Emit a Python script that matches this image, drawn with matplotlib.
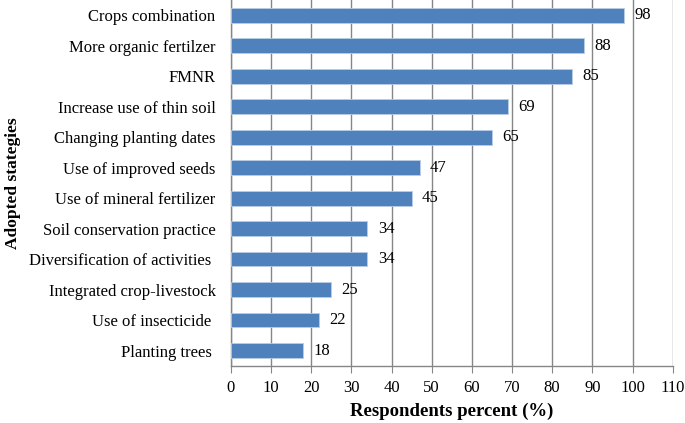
import matplotlib.pyplot as plt

# data (top to bottom as in the figure)
strategies = ['Crops combination', 'More organic fertilzer', 'FMNR',
              'Increase use of thin soil', 'Changing planting dates',
              'Use of improved seeds', 'Use of mineral fertilizer',
              'Soil conservation practice', 'Diversification of activities ',
              'Integrated crop-livestock', 'Use of insecticide ', 'Planting trees ']
percent = [98, 88, 85, 69, 65, 47, 45, 34, 34, 25, 22, 18]
xticks = list(range(0, 111, 10))

plt.rcParams['font.family'] = ['Liberation Serif', 'DejaVu Serif']

fig = plt.figure(figsize=(6.85, 4.23), dpi=100)
ax = fig.add_axes([0.337, 0.135, 0.645, 0.865])

pos = list(range(len(strategies)))[::-1]
ax.barh(pos, percent, height=0.48, color='#4F81BD', edgecolor='#B9CDE5', linewidth=0.6, zorder=3)
for p, v in zip(pos, percent):
    ax.text(v + 2.6, p, str(v), va='center', ha='left', fontsize=12, zorder=4)

ax.set_xlim(0, 110)
ax.set_ylim(-0.5, len(strategies) - 0.5)
ax.set_xticks(xticks)
ax.set_yticks(pos)
ax.set_yticklabels(strategies, fontsize=12)
ax.tick_params(axis='x', labelsize=12, direction='out', length=5, color='#868686', pad=5)
ax.tick_params(axis='y', length=0, pad=11)
ax.xaxis.grid(True, color='#868686', linewidth=1.0, zorder=0)
for s in ['top', 'right']:
    ax.spines[s].set_visible(False)
for s in ['left', 'bottom']:
    ax.spines[s].set_color('#868686')
    ax.spines[s].set_linewidth(1.0)

ax.set_xlabel('Respondents percent (%)', fontsize=13.5, fontweight='bold', labelpad=5)
ax.set_ylabel('Adopted stategies', fontsize=12.5, fontweight='bold')
ax.yaxis.set_label_coords(-0.474, 0.5)

fig.savefig('out.png', dpi=100)
